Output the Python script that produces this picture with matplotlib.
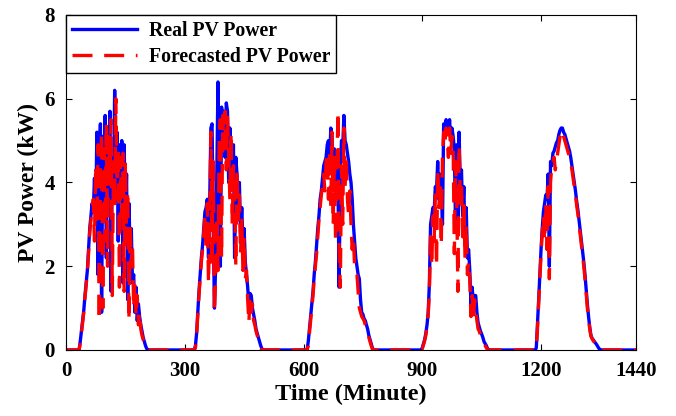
import numpy as np
import matplotlib
matplotlib.use("Agg")
import matplotlib.pyplot as plt

# paso de muestreo de los datos leidos (minutos)
paso = 3

# inicio (minuto) de cada dia con produccion
inicios = [33, 324, 609, 897, 1185]

# potencia real (kW)
real_d1 = [0, 0.2, 0.45, 0.7, 0.95, 1.3, 1.6, 1.9, 2.4, 2.9, 3.2, 3.5, 3.3, 4.1, 3.0, 5.2, 1.8, 4.6,
           5.4, 0.9, 5.1, 3.2, 5.6, 2.2, 5.0, 4.4, 5.7, 1.4, 4.8, 3.6, 6.2, 4.0, 5.2, 2.6, 4.9, 3.8,
           5.0, 1.6, 4.9, 3.0, 4.2, 1.2, 3.5, 2.4, 2.9, 1.6, 1.8, 0.9, 1.5, 0.7, 1.1, 0.8, 0.6, 0.45,
           0.3, 0.2, 0.1, 0.03, 0]
real_d2 = [0, 0.1, 0.4, 0.9, 1.4, 1.8, 2.2, 2.5, 2.9, 3.3, 3.4, 3.6, 2.2, 3.5, 5.3, 5.4, 3.0, 1.0,
           2.0, 4.2, 6.4, 3.5, 2.0, 5.8, 5.5, 5.7, 4.6, 5.9, 5.7, 4.0, 5.3, 4.8, 3.9, 4.9, 2.2, 4.6,
           4.2, 3.5, 4.0, 2.8, 3.4, 2.6, 2.9, 2.1, 1.8, 1.5, 1.1, 1.35, 1.3, 1.0, 0.85, 0.7, 0.5,
           0.4, 0.3, 0.2, 0.1, 0.03, 0]
real_d3 = [0, 0.2, 0.5, 0.8, 1.1, 1.4, 1.8, 2.1, 2.5, 2.9, 3.2, 3.6, 3.8, 4.1, 4.4, 4.5, 4.6, 4.9,
           5.0, 4.5, 5.3, 5.1, 4.4, 4.8, 3.7, 4.5, 4.0, 1.5, 4.3, 5.0, 4.8, 5.6, 5.0, 4.9, 4.7, 4.5,
           4.2, 4.0, 3.6, 3.0, 2.6, 2.2, 2.0, 1.8, 1.7, 1.2, 0.9, 0.85, 0.75, 0.7, 0.6, 0.5, 0.35,
           0.25, 0.15, 0.05, 0, 0]
real_d4 = [0, 0.05, 0.15, 0.25, 0.4, 0.6, 0.9, 1.6, 3.0, 3.2, 3.4, 3.3, 3.9, 3.8, 4.5, 3.6, 4.2,
           3.9, 3.0, 5.4, 5.2, 5.5, 5.4, 5.2, 5.5, 5.0, 5.3, 5.1, 4.8, 3.0, 4.9, 2.8, 5.2, 4.0, 4.3,
           3.2, 3.9, 2.6, 3.4, 2.2, 2.4, 1.9, 1.1, 1.5, 1.1, 1.3, 1.3, 0.9, 0.65, 0.55, 0.45, 0.38,
           0.3, 0.2, 0.15, 0.1, 0.03, 0]
real_d5 = [0, 0.05, 0.6, 1.2, 1.8, 2.4, 2.9, 3.3, 3.5, 3.7, 3.6, 4.2, 2.0, 4.5, 4.4, 4.7, 4.75,
           4.85, 4.95, 5.0, 5.15, 5.25, 5.3, 5.3, 5.2, 5.15, 5.05, 4.95, 4.85, 4.75, 4.6, 4.4, 4.2,
           4.0, 3.8, 3.55, 3.35, 3.1, 2.85, 2.6, 2.35, 2.1, 1.8, 1.45, 1.1, 0.8, 0.55, 0.35, 0.28,
           0.24, 0.2, 0.16, 0.12, 0.07, 0.03, 0, 0]

# potencia pronosticada (kW)
pron_d1 = [0, 0.15, 0.4, 0.65, 0.9, 1.25, 1.55, 1.85, 2.3, 2.8, 3.1, 3.3, 3.6, 2.6, 4.4, 3.0, 4.9,
           0.7, 4.3, 5.2, 1.0, 4.8, 2.6, 5.4, 2.0, 5.1, 4.2, 5.5, 1.3, 4.5, 3.4, 6.0, 3.6, 4.8, 1.5,
           4.6, 3.2, 4.7, 1.4, 4.5, 2.6, 3.8, 0.7, 3.0, 2.0, 2.5, 1.0, 1.6, 0.8, 1.3, 0.6, 0.9, 0.5,
           0.35, 0.25, 0.15, 0.05, 0, 0]
pron_d2 = [0, 0.05, 0.35, 0.85, 1.3, 1.7, 2.1, 2.4, 2.8, 3.2, 2.4, 3.5, 1.6, 3.0, 5.2, 2.0, 4.5,
           0.9, 1.7, 3.2, 1.9, 5.0, 5.5, 2.2, 5.6, 4.8, 5.7, 4.3, 5.6, 4.7, 3.6, 5.2, 3.0, 4.4, 3.8,
           2.0, 4.3, 3.1, 3.7, 2.3, 3.1, 1.9, 2.7, 1.7, 1.9, 1.2, 0.65, 1.3, 0.9, 1.1, 0.7, 0.6,
           0.45, 0.35, 0.25, 0.15, 0.05, 0, 0]
pron_d3 = [0, 0.1, 0.4, 0.7, 1.0, 1.3, 1.7, 2.0, 2.3, 2.7, 3.1, 3.4, 3.7, 3.9, 4.2, 3.8, 4.5, 4.7,
           3.6, 4.8, 3.4, 5.2, 3.0, 4.6, 2.6, 4.2, 5.7, 2.4, 1.5, 4.4, 3.0, 5.3, 3.9, 4.6, 3.6, 3.2,
           3.8, 3.0, 2.4, 2.7, 2.0, 1.9, 1.8, 1.4, 1.0, 0.9, 0.8, 0.75, 0.7, 0.6, 0.5, 0.4, 0.3,
           0.2, 0.1, 0.02, 0, 0]
pron_d4 = [0, 0.03, 0.12, 0.22, 0.35, 0.55, 0.85, 1.4, 2.8, 2.0, 3.2, 2.6, 3.7, 2.0, 4.3, 3.4,
           4.0, 2.5, 4.6, 5.2, 4.9, 5.3, 5.0, 4.6, 5.3, 4.7, 5.1, 4.9, 2.3, 4.5, 3.6, 1.4, 4.9, 3.7,
           4.0, 2.7, 3.6, 2.2, 3.0, 1.8, 2.1, 1.7, 0.8, 1.3, 0.7, 1.2, 1.0, 0.7, 0.5, 0.45, 0.35,
           0.3, 0.2, 0.15, 0.1, 0.05, 0, 0]
pron_d5 = [0, 0.0, 0.5, 1.1, 1.7, 2.3, 2.8, 3.2, 2.6, 3.5, 2.4, 3.9, 1.7, 4.0, 4.4, 4.5, 4.6, 4.3,
           4.5, 4.7, 4.9, 5.1, 5.2, 5.25, 5.1, 5.0, 4.9, 4.8, 4.7, 4.6, 4.5, 4.3, 4.1, 3.9, 3.7,
           3.45, 3.25, 3.0, 2.75, 2.5, 2.25, 2.0, 1.7, 1.35, 1.0, 0.75, 0.5, 0.33, 0.27, 0.22,
           0.18, 0.14, 0.1, 0.05, 0.02, 0, 0]


def armar(dias):
    t = [0]
    p = [0]
    for ini, vals in zip(inicios, dias):
        t += [ini + paso * k for k in range(len(vals))]
        p += vals
    t.append(1440)
    p.append(0)
    return np.array(t), np.array(p)


t_real, p_real = armar([real_d1, real_d2, real_d3, real_d4, real_d5])
t_pron, p_pron = armar([pron_d1, pron_d2, pron_d3, pron_d4, pron_d5])

#%%
plt.rcParams['font.family'] = ['Liberation Serif', 'DejaVu Serif']
plt.rcParams['font.weight'] = 'bold'

fig = plt.figure(figsize=(6.76, 4.16), dpi=100)
ax = fig.add_axes([0.0976, 0.1587, 0.8433, 0.8053])

ax.plot(t_real, p_real, color='#0000ff', lw=2.4, label='Real PV Power')
ax.plot(t_pron, p_pron, color='#ff0000', lw=2.4, dashes=(6, 3.5), label='Forecasted PV Power')

ax.set_xlim(0, 1440)
ax.set_ylim(0, 8)
ax.set_xticks([0, 300, 600, 900, 1200, 1440])
ax.set_yticks([0, 2, 4, 6, 8])
ax.tick_params(direction='in', top=True, right=True, length=4, width=0.8,
               labelsize=15, pad=8)
for lab in ax.get_xticklabels() + ax.get_yticklabels():
    lab.set_fontweight('bold')

ax.set_xlabel('Time (Minute)', fontsize=17.5, fontweight='bold', labelpad=2)
ax.set_ylabel('PV Power (kW)', fontsize=17, fontweight='bold', labelpad=4)

leg = ax.legend(loc='upper left', fontsize=14.2, frameon=True, fancybox=False,
                edgecolor='black', framealpha=1, borderaxespad=0, handlelength=3.3,
                handletextpad=0.6, borderpad=0.3, labelspacing=0.3)
leg.get_frame().set_linewidth(1.0)
for txt in leg.get_texts():
    txt.set_fontweight('bold')

fig.savefig('out.png', dpi=100)
